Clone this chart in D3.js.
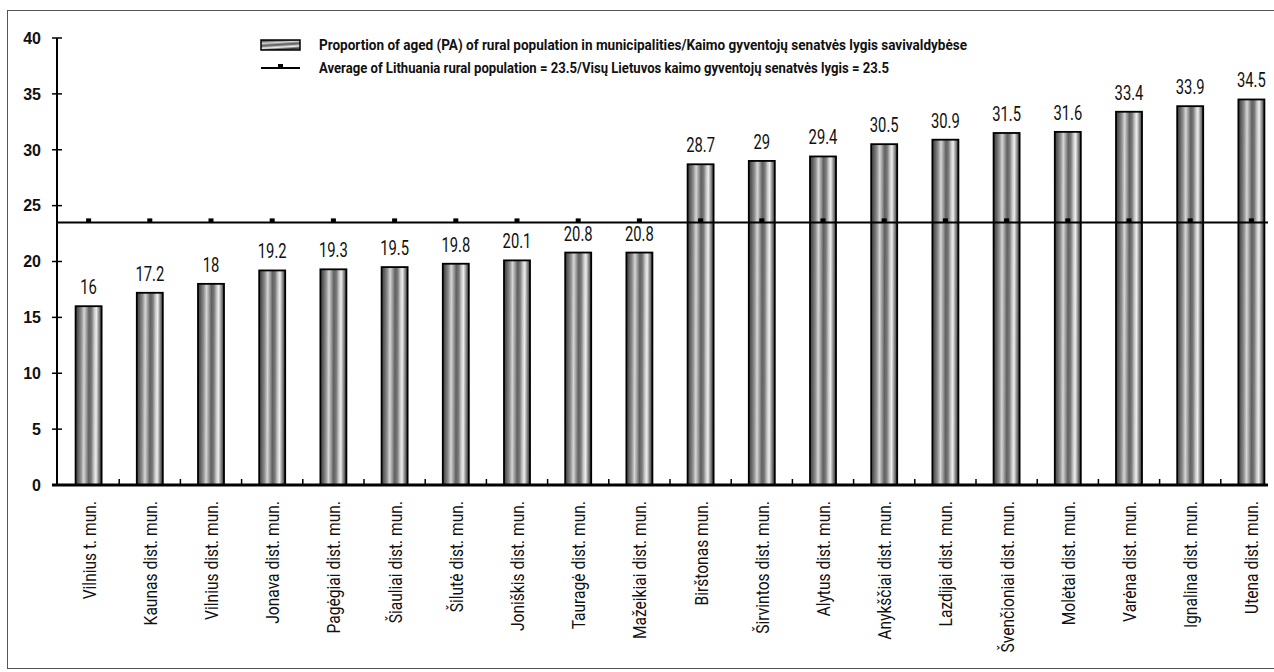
<!DOCTYPE html>
<html>
<head>
<meta charset="utf-8">
<script src="https://cdn.jsdelivr.net/npm/d3@7"></script>
<style>
  html, body { margin: 0; padding: 0; background: #fff; }
  svg { display: block; }
</style>
</head>
<body>
<svg id="chart" width="1274" height="672"></svg>
<script>
// Municipalities, ordered by share of aged rural population
const municipalities = [
  "Vilnius t. mun.", "Kaunas dist. mun.", "Vilnius dist. mun.", "Jonava dist. mun.",
  "Pagėgiai dist. mun.", "Šiauliai dist. mun.", "Šilutė dist. mun.", "Joniškis dist. mun.",
  "Tauragė dist. mun.", "Mažeikiai dist. mun.", "Birštonas mun.", "Širvintos dist. mun.",
  "Alytus dist. mun.", "Anykščiai dist. mun.", "Lazdijai dist. mun.", "Švenčioniai dist. mun.",
  "Molėtai dist. mun.", "Varėna dist. mun.", "Ignalina dist. mun.", "Utena dist. mun."
];
const agedShare = [16, 17.2, 18, 19.2, 19.3, 19.5, 19.8, 20.1, 20.8, 20.8,
                   28.7, 29, 29.4, 30.5, 30.9, 31.5, 31.6, 33.4, 33.9, 34.5];
const nationalAverage = 23.5;
const yTicks = [0, 5, 10, 15, 20, 25, 30, 35, 40];
const legendLabels = [
  "Proportion of aged (PA) of rural population in municipalities/Kaimo gyventojų senatvės lygis savivaldybėse",
  "Average of Lithuania rural population = 23.5/Visų Lietuvos kaimo gyventojų senatvės lygis = 23.5"
];

const svg = d3.select("#chart");
const defs = svg.append("defs");

// outer frame
svg.append("rect")
  .attr("x", 7.5).attr("y", 10.5).attr("width", 1285).attr("height", 658)
  .attr("fill", "#fff").attr("stroke", "#555").attr("stroke-width", 1);

const plot = { left: 58, right: 1282, top: 38, bottom: 485 };
const axisEnd = 1268;

const x = d3.scaleBand()
  .domain(municipalities)
  .range([plot.left, plot.right])
  .paddingInner(0.575)
  .paddingOuter(0.2875);

const y = d3.scaleLinear().domain([0, 40]).range([plot.bottom, plot.top]);

// metallic cylinder-like fill for the bars
const stripeStops = [
  [0, "#3e3e3e"], [0.1, "#5c5c5c"], [0.22, "#8e8e8e"], [0.33, "#d6d6d6"],
  [0.42, "#a0a0a0"], [0.52, "#606060"], [0.62, "#7a7a7a"], [0.72, "#c8c8c8"],
  [0.8, "#eeeeee"], [0.9, "#8c8c8c"], [1, "#3a3a3a"]
];
function addStripes(id, attrs) {
  const g = defs.append("linearGradient").attr("id", id);
  Object.entries(attrs).forEach(([k, v]) => g.attr(k, v));
  g.selectAll("stop").data(stripeStops).join("stop")
    .attr("offset", d => d[0]).attr("stop-color", d => d[1]);
}
addStripes("barFill", { x1: 0, y1: 0, x2: 1, y2: 0.02 });
addStripes("legendSwatch", { x1: 0, y1: 0, x2: 0.25, y2: 1, spreadMethod: "reflect" });

// y axis
const yAxis = svg.append("g").attr("transform", `translate(${plot.left - 1},0)`);
yAxis.append("line")
  .attr("y1", y(40)).attr("y2", y(0))
  .attr("stroke", "#000").attr("stroke-width", 2);
yAxis.selectAll("line.tick").data(yTicks).join("line")
  .attr("class", "tick")
  .attr("x1", -5).attr("x2", 5)
  .attr("y1", d => y(d)).attr("y2", d => y(d))
  .attr("stroke", "#000").attr("stroke-width", 1.5);
yAxis.selectAll("text").data(yTicks).join("text")
  .attr("x", -16).attr("y", d => y(d)).attr("dy", "0.36em")
  .attr("text-anchor", "end")
  .attr("font-family", "'Liberation Sans', Arial, sans-serif")
  .attr("font-size", 16).attr("font-weight", "bold")
  .attr("fill", "#111")
  .text(d => d);

// bars
svg.append("g").selectAll("rect").data(agedShare).join("rect")
  .attr("x", (d, i) => x(municipalities[i]))
  .attr("y", d => y(d))
  .attr("width", x.bandwidth())
  .attr("height", d => y(0) - y(d))
  .attr("fill", "url(#barFill)")
  .attr("stroke", "#000").attr("stroke-width", 1.8);

// value labels
svg.append("g").selectAll("text").data(agedShare).join("text")
  .attr("transform", (d, i) =>
    `translate(${x(municipalities[i]) + x.bandwidth() / 2},${y(d) - 12}) scale(0.74,1)`)
  .attr("text-anchor", "middle")
  .attr("font-family", "Roboto, sans-serif")
  .attr("font-size", 20)
  .attr("fill", "#111")
  .text(d => d);

// x axis with category boundary ticks
const xAxis = svg.append("g");
xAxis.append("line")
  .attr("x1", plot.left - 6).attr("x2", axisEnd)
  .attr("y1", y(0)).attr("y2", y(0))
  .attr("stroke", "#000").attr("stroke-width", 3);
xAxis.selectAll("line.tick").data(municipalities.slice(1)).join("line")
  .attr("class", "tick")
  .attr("x1", d => x(d) - x.step() * x.paddingInner() / 2)
  .attr("x2", d => x(d) - x.step() * x.paddingInner() / 2)
  .attr("y1", y(0)).attr("y2", y(0) - 6)
  .attr("stroke", "#000").attr("stroke-width", 1.5);

// rotated category labels
xAxis.selectAll("text").data(municipalities).join("text")
  .attr("transform", d =>
    `translate(${x(d) + x.bandwidth() / 2 + 7},501) rotate(-90) scale(0.82,1)`)
  .attr("text-anchor", "end")
  .attr("font-family", "Roboto, sans-serif")
  .attr("font-size", 19)
  .attr("fill", "#111")
  .text(d => d);

// national average line with markers at each category
const avg = svg.append("g");
avg.append("line")
  .attr("x1", plot.left - 1).attr("x2", axisEnd)
  .attr("y1", y(nationalAverage)).attr("y2", y(nationalAverage))
  .attr("stroke", "#000").attr("stroke-width", 2);
avg.selectAll("rect").data(municipalities).join("rect")
  .attr("x", d => x(d) + x.bandwidth() / 2 - 2.5)
  .attr("y", y(nationalAverage) - 4)
  .attr("width", 5).attr("height", 4)
  .attr("fill", "#000");

// legend
const legend = svg.append("g");
legend.append("rect")
  .attr("x", 261).attr("y", 40).attr("width", 39).attr("height", 10)
  .attr("fill", "url(#legendSwatch)")
  .attr("stroke", "#000").attr("stroke-width", 1.5);
legend.append("line")
  .attr("x1", 261).attr("x2", 300).attr("y1", 68).attr("y2", 68)
  .attr("stroke", "#000").attr("stroke-width", 2);
legend.append("rect")
  .attr("x", 278).attr("y", 64).attr("width", 5).attr("height", 4)
  .attr("fill", "#000");
legend.selectAll("text").data(legendLabels).join("text")
  .attr("x", 319)
  .attr("y", (d, i) => 50 + i * 23)
  .attr("font-family", "Roboto, sans-serif")
  .attr("font-weight", "bold")
  .attr("font-size", 15)
  .attr("textLength", (d, i) => i === 0 ? 648 : 570)
  .attr("lengthAdjust", "spacingAndGlyphs")
  .attr("fill", "#111")
  .text(d => d);
</script>
</body>
</html>
